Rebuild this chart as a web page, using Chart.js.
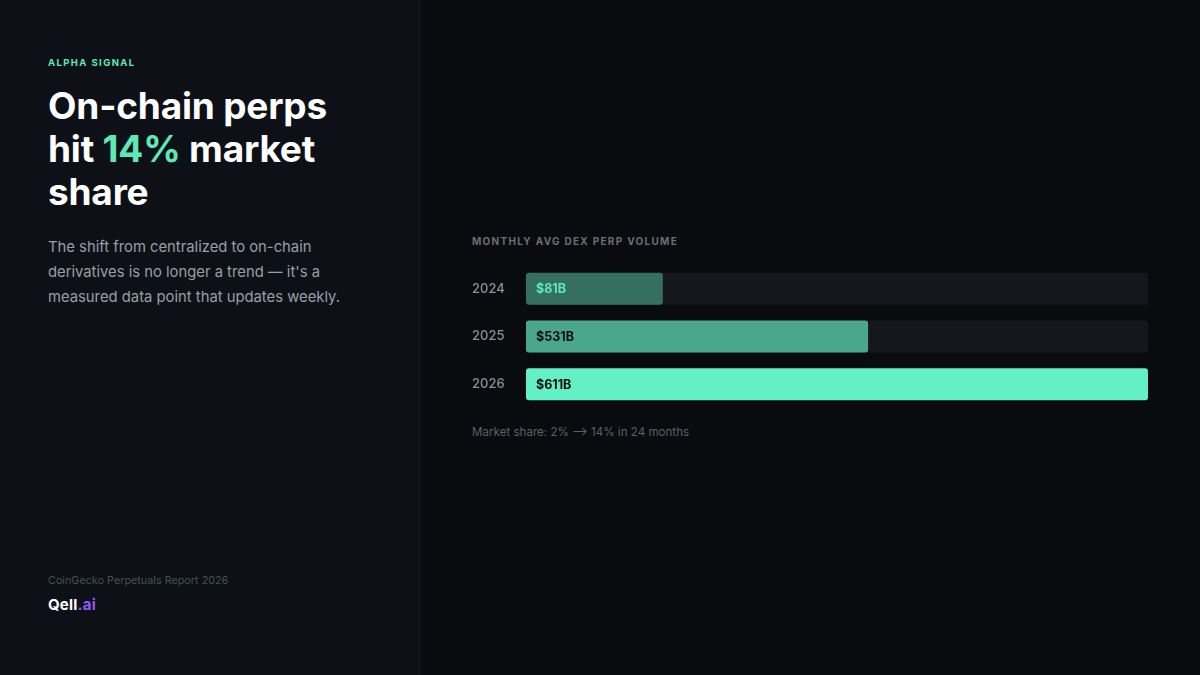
<!DOCTYPE html>
<html>
<head>
<meta charset="utf-8">
<script src="https://cdn.jsdelivr.net/npm/chart.js@4"></script>
<style>
  html, body { margin: 0; padding: 0; }
  body { width: 1200px; height: 675px; background: #0a0b0f; position: relative; overflow: hidden; font-family: Inter, "Noto Sans", sans-serif; }
  .side { position: absolute; left: 0; top: 0; width: 419px; height: 675px; background: #0d1117; border-right: 1px solid #1a1d24; }
  .kicker { position: absolute; left: 48px; top: 57px; font-size: 9.5px; font-weight: 700; letter-spacing: 1.4px; color: #5ee8b5; }
  .title { position: absolute; left: 48px; top: 84px; font-size: 37px; line-height: 43px; font-weight: 700; color: #ffffff; letter-spacing: -0.2px; }
  .title .hl { color: #5ee8b5; }
  .lede { position: absolute; left: 48px; top: 235px; width: 320px; font-size: 14.8px; line-height: 25px; color: #9a9ea6; }
  .source { position: absolute; left: 48px; top: 574px; font-size: 10.8px; color: #4a4e56; }
  .logo { position: absolute; left: 48px; top: 595px; font-size: 15px; font-weight: 700; color: #ffffff; letter-spacing: 0.2px; }
  .logo span { color: #8b5cf6; }
  .chart-title { position: absolute; left: 472px; top: 235px; font-size: 10px; font-weight: 700; letter-spacing: 1.3px; color: #6b6e75; }
  .chart-box { position: absolute; left: 472px; top: 257px; width: 676px; height: 159px; }
  .note { position: absolute; left: 472px; top: 425px; font-size: 11.6px; color: #5d6068; }
</style>
</head>
<body>
<div class="side">
  <div class="kicker">ALPHA SIGNAL</div>
  <div class="title">On-chain perps<br>hit <span class="hl">14%</span> market<br>share</div>
  <div class="lede">The shift from centralized to on-chain derivatives is no longer a trend — it's a measured data point that updates weekly.</div>
  <div class="source">CoinGecko Perpetuals Report 2026</div>
  <div class="logo">Qell<span>.ai</span></div>
</div>
<div class="chart-title">MONTHLY AVG DEX PERP VOLUME</div>
<div class="chart-box"><canvas id="volChart"></canvas></div>
<div class="note">Market share: 2% ⟶ 14% in 24 months</div>

<script>
const years = ['2024', '2025', '2026'];
const barWidths = [22, 55, 100];          // % of track
const valueLabels = ['$81B', '$531B', '$611B'];
const trackMax = [100, 100, 100];
const barColors = ['#35705f', '#4aa78a', '#63f0c4'];
const labelColors = ['#5ee8b5', '#0a0b0f', '#0a0b0f'];

// draw the value text inside each bar
const valueLabelPlugin = {
    id: 'valueLabels',
    afterDatasetsDraw(chart) {
        const ctx = chart.ctx;
        const meta = chart.getDatasetMeta(0);
        ctx.save();
        ctx.font = '700 12.5px Inter, sans-serif';
        ctx.textBaseline = 'middle';
        ctx.textAlign = 'left';
        meta.data.forEach((bar, i) => {
            ctx.fillStyle = labelColors[i];
            ctx.fillText(valueLabels[i], bar.base + 10, bar.y + 1);
        });
        ctx.restore();
    }
};

const ctx = document.getElementById('volChart').getContext('2d');
new Chart(ctx, {
    type: 'bar',
    data: {
        labels: years,
        datasets: [
            {
                label: 'Volume',
                data: barWidths,
                backgroundColor: barColors,
                borderRadius: 3,
                borderSkipped: false,
                grouped: false,
                order: 0,
                categoryPercentage: 1,
                barPercentage: 0.667
            },
            {
                label: 'Track',
                data: trackMax,
                backgroundColor: '#16171c',
                borderRadius: 3,
                borderSkipped: false,
                grouped: false,
                order: 1,
                categoryPercentage: 1,
                barPercentage: 0.667
            }
        ]
    },
    options: {
        indexAxis: 'y',
        responsive: true,
        maintainAspectRatio: false,
        animation: false,
        layout: { padding: 0 },
        plugins: {
            legend: { display: false },
            tooltip: { enabled: false }
        },
        scales: {
            x: {
                display: false,
                min: 0,
                max: 100
            },
            y: {
                grid: { display: false },
                border: { display: false },
                ticks: {
                    color: '#8d9096',
                    font: { family: 'Inter', size: 13, weight: '500' },
                    crossAlign: 'far',
                    padding: 0
                },
                afterFit(scale) {
                    scale.width = 54;
                }
            }
        }
    },
    plugins: [valueLabelPlugin]
});
</script>
</body>
</html>
